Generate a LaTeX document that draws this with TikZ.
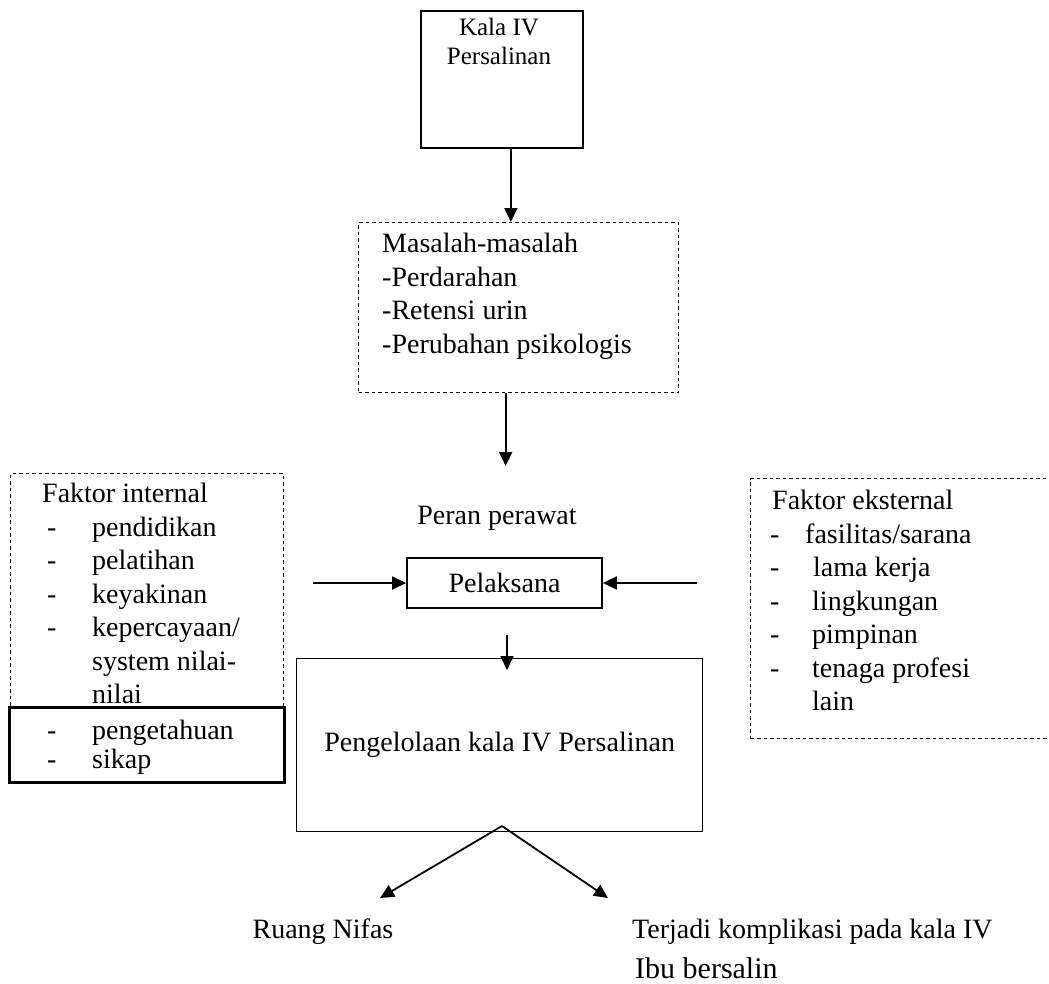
\documentclass[tikz,border=0pt]{standalone}
\usepackage{fontspec}
\setmainfont{Liberation Serif}
\usetikzlibrary{arrows.meta}
\begin{document}
\begin{tikzpicture}[x=1pt,y=-1pt,
  every node/.style={font=\fontsize{28}{33.5}\selectfont, inner sep=0pt},
  box/.style={draw, line width=1.8pt},
  dbox/.style={draw, line width=1.3pt, dash pattern=on 3.5pt off 3pt},
  arr/.style={-{Triangle[length=14pt,width=13pt]}, line width=1.8pt},
  txt/.style={anchor=north west, align=left}
]
\useasboundingbox (0,0) rectangle (1049,983);
\fill[white] (0,0) rectangle (1049,983);

% top box
\node[box, minimum width=162pt, minimum height=137pt, anchor=north west] (kala) at (420,10) {};
\node[anchor=north, align=center, font=\fontsize{25}{29}\selectfont] (kalatxt) at (499,18) {Kala IV\\Persalinan};

% masalah box
\node[dbox, minimum width=320pt, minimum height=170pt, anchor=north west] (mas) at (358,222) {};
\node[txt] (mastxt) at (382,233) {Masalah-masalah\\-Perdarahan\\-Retensi urin\\-Perubahan psikologis};

\coordinate (k1) at ([xshift=9pt]kala.south);
\draw[arr] (k1) -- (k1 |- mas.north);

% peran perawat
\node (peran) at (497,518) {Peran perawat};
\coordinate (m1) at ([xshift=-13pt]mas.south);
\coordinate (m2) at (m1 |- 0,466);
\draw[arr] (m1) -- (m2);

% pelaksana
\node[box, minimum width=195pt, minimum height=50pt] (pel) at (504.5,583) {Pelaksana};
\coordinate (la) at (313,583);
\coordinate (ra) at (697,583);
\draw[arr] (la) -- (pel.west);
\draw[arr] (ra) -- (pel.east);

% pengelolaan
\node[box, line width=1.3pt, minimum width=406pt, minimum height=173pt, anchor=north west] (peng) at (296,658) {Pengelolaan kala IV Persalinan};
\coordinate (p1) at (507,635);
\draw[arr, shorten >=-12pt] (p1) -- (p1 |- peng.north);

% faktor internal
\node[dbox, minimum width=273pt, minimum height=233pt, anchor=north west] (intl) at (10,473) {};
\node[box, line width=2.6pt, minimum width=275pt, minimum height=75pt, anchor=north west] (pengsk) at (8,706) {};
\node[txt] (inttxt) at (42,483) {Faktor internal\\
\hspace*{5pt}\makebox[45pt][l]{-}pendidikan\\
\hspace*{5pt}\makebox[45pt][l]{-}pelatihan\\
\hspace*{5pt}\makebox[45pt][l]{-}keyakinan\\
\hspace*{5pt}\makebox[45pt][l]{-}kepercayaan/\\
\hspace*{50pt}system nilai-\\
\hspace*{50pt}nilai};
\node[txt, font=\fontsize{28}{29}\selectfont] (sktxt) at (47,720) {\makebox[45pt][l]{-}pengetahuan\\\makebox[45pt][l]{-}sikap};

% faktor eksternal
\node[dbox, minimum width=320pt, minimum height=260pt, anchor=north west] (extl) at (750,478) {};
\node[txt] (exttxt) at (772,490) {Faktor eksternal\\
\hspace*{-2pt}\makebox[35pt][l]{-}fasilitas/sarana\\
\hspace*{-2pt}\makebox[43pt][l]{-}lama kerja\\
\hspace*{-2pt}\makebox[42pt][l]{-}lingkungan\\
\hspace*{-2pt}\makebox[42pt][l]{-}pimpinan\\
\hspace*{-2pt}\makebox[42pt][l]{-}tenaga profesi\\
\hspace*{40pt}lain};

% outcomes
\coordinate (ap) at (502,826);
\coordinate (lt) at (380,898);
\coordinate (rt) at (608,898);
\draw[arr] (ap) -- (lt);
\draw[arr] (ap) -- (rt);
\node (ruang) at (323,932) {Ruang Nifas};
\node[anchor=west] (terj) at (632,932) {Terjadi komplikasi pada kala IV};
\node[anchor=west, font=\fontsize{30}{34}\selectfont] (ibu) at (635,968) {Ibu bersalin};
\end{tikzpicture}
\end{document}
